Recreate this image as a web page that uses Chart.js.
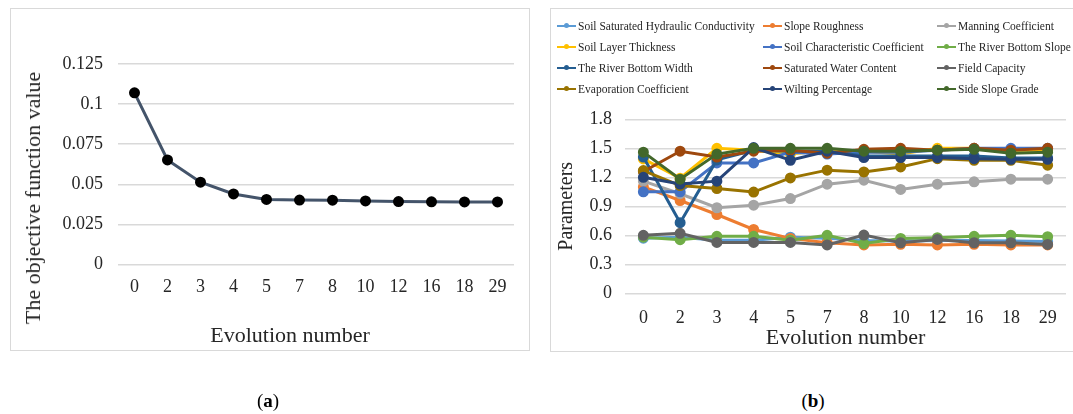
<!DOCTYPE html>
<html><head><meta charset="utf-8">
<script src="https://cdn.jsdelivr.net/npm/chart.js@4.4.0/dist/chart.umd.min.js"></script>
<style>
body{margin:0;width:1073px;height:414px;background:#fff;position:relative;overflow:hidden;font-family:"Liberation Serif","Times New Roman",serif;color:#262626;}
.box{position:absolute;border:1px solid #d9d9d9;box-sizing:border-box;}
#boxA{left:10px;top:8px;width:520px;height:343px;}
#boxB{left:550px;top:8px;width:530px;height:344px;}
canvas{position:absolute;}
#cA{left:11px;top:9px;}
#cB{left:551px;top:9px;}
.cap{position:absolute;top:390px;font-size:19px;color:#000;transform:translateX(-50%);}
.ttl{position:absolute;font-size:22px;line-height:26px;white-space:nowrap;color:#262626;}
#ytA{left:33px;top:198px;transform:translate(-50%,-50%) rotate(-90deg);}
#xtA{left:290px;top:335px;transform:translate(-50%,-50%);}
.lg{position:absolute;font-size:11.5px;line-height:14px;color:#262626;white-space:nowrap;}
.lg .mk{position:absolute;left:0;top:6px;width:19px;height:2px;}
.lg .dt{position:absolute;left:7px;top:4.5px;width:5px;height:5px;border-radius:50%;}
.lg .tx{position:absolute;left:21px;top:0;}
</style></head>
<body>
<div class="box" id="boxA"></div>
<div class="box" id="boxB"></div>
<canvas id="cA" width="518" height="341"></canvas>
<canvas id="cB" width="522" height="342"></canvas>
<div class="ttl" id="ytA">The objective function value</div>
<div class="ttl" id="xtA">Evolution number</div>
<div id="legend"></div>
<div class="cap" style="left:268px">(<b>a</b>)</div>
<div class="cap" style="left:813px">(<b>b</b>)</div>
<script>
const categories = ['0','2','3','4','5','7','8','10','12','16','18','29'];
const objectiveValues = [0.107,0.0652,0.0513,0.044,0.0406,0.0402,0.0401,0.0396,0.0392,0.0391,0.039,0.039];

const seriesNames = ['Soil Saturated Hydraulic Conductivity','Slope Roughness','Manning Coefficient',
 'Soil Layer Thickness','Soil Characteristic Coefficient','The River Bottom Slope',
 'The River Bottom Width','Saturated Water Content','Field Capacity',
 'Evaporation Coefficient','Wilting Percentage','Side Slope Grade'];
const seriesColors = ['#5B9BD5','#ED7D31','#A5A5A5','#FFC000','#4472C4','#70AD47',
 '#255E91','#9E480E','#636363','#997300','#264478','#43682B'];

const soilSatHydCond   = [0.57,0.58,0.55,0.55,0.58,0.57,0.545,0.54,0.545,0.545,0.54,0.535];
const slopeRoughness   = [1.10,0.96,0.815,0.66,0.568,0.524,0.50,0.507,0.50,0.507,0.50,0.50];
const manningCoef      = [1.16,1.03,0.885,0.912,0.98,1.129,1.17,1.074,1.129,1.153,1.18,1.18];
const soilLayerThick   = [1.39,1.19,1.50,1.48,1.44,1.48,1.47,1.44,1.50,1.50,1.48,1.48];
const soilCharCoef     = [1.05,1.05,1.349,1.349,1.46,1.44,1.46,1.46,1.48,1.50,1.50,1.50];
const riverBottomSlope = [0.58,0.555,0.59,0.59,0.55,0.60,0.515,0.568,0.575,0.59,0.60,0.585];
const riverBottomWidth = [1.41,0.73,1.38,1.48,1.47,1.47,1.42,1.42,1.42,1.42,1.40,1.40];
const satWaterContent  = [1.26,1.47,1.41,1.47,1.48,1.45,1.49,1.50,1.48,1.50,1.48,1.50];
const fieldCapacity    = [0.60,0.62,0.526,0.526,0.526,0.50,0.602,0.523,0.557,0.523,0.523,0.506];
const evapCoef         = [1.27,1.115,1.084,1.047,1.194,1.274,1.256,1.307,1.393,1.376,1.376,1.325];
const wiltingPct       = [1.20,1.13,1.16,1.507,1.376,1.47,1.404,1.404,1.404,1.393,1.386,1.386];
const sideSlopeGrade   = [1.46,1.18,1.44,1.50,1.50,1.50,1.47,1.47,1.48,1.49,1.45,1.46];

const seriesValues = [soilSatHydCond,slopeRoughness,manningCoef,soilLayerThick,soilCharCoef,riverBottomSlope,
 riverBottomWidth,satWaterContent,fieldCapacity,evapCoef,wiltingPct,sideSlopeGrade];

const yTicksA = [0,0.025,0.05,0.075,0.1,0.125];
const yTicksB = [0,0.3,0.6,0.9,1.2,1.5,1.8];

const FONT = "'Liberation Serif','Times New Roman',serif";
const TXT = '#262626';
const GRID = '#d9d9d9';

// Chart (a)
new Chart(document.getElementById('cA'), {
  type:'line',
  data:{labels:categories,datasets:[{data:objectiveValues,borderColor:'#44546A',borderWidth:3,
    pointBackgroundColor:'#000',pointBorderColor:'#000',pointRadius:4,tension:0}]},
  options:{
    responsive:false,animation:false,
    plugins:{legend:{display:false},tooltip:{enabled:false}},
    layout:{padding:{top:55,right:15,left:0,bottom:0}},
    scales:{
      x:{offset:true,grid:{display:false,drawTicks:false},border:{display:false},
         ticks:{padding:12,color:TXT,font:{family:FONT,size:18}},
         afterFit(s){s.height=85.5;}},
      y:{min:0,max:0.125,afterBuildTicks(s){s.ticks=yTicksA.map(v=>({value:v}));},
         grid:{color:GRID,lineWidth:1.5,drawTicks:false},border:{display:false},
         ticks:{padding:15,color:TXT,font:{family:FONT,size:18},callback:v=>String(+v.toFixed(3))},
         afterFit(s){s.width=107;}}
    }
  }
});

// Chart (b)
new Chart(document.getElementById('cB'), {
  type:'line',
  data:{labels:categories,datasets:seriesValues.map((vals,i)=>({
    label:seriesNames[i],data:vals,borderColor:seriesColors[i],backgroundColor:seriesColors[i],
    pointBackgroundColor:seriesColors[i],pointBorderColor:seriesColors[i],
    borderWidth:3,pointRadius:4,tension:0,order:seriesValues.length-i}))},
  options:{
    responsive:false,animation:false,
    plugins:{legend:{display:false},tooltip:{enabled:false}},
    layout:{padding:{top:110.3,right:1.5,left:0,bottom:0}},
    scales:{
      x:{offset:true,grid:{display:false,drawTicks:false},border:{display:false},
         ticks:{padding:14,color:TXT,font:{family:FONT,size:18}},
         title:{display:true,text:'Evolution number',color:TXT,font:{family:FONT,size:22},padding:{top:0,bottom:0}},
         afterFit(s){s.height=57.7;}},
      y:{min:0,max:1.8,afterBuildTicks(s){s.ticks=yTicksB.map(v=>({value:v}));},
         grid:{color:GRID,lineWidth:1.5,drawTicks:false},border:{display:false},
         ticks:{padding:13,color:TXT,font:{family:FONT,size:18},callback:v=>String(+v.toFixed(1))},
         title:{display:true,text:'Parameters',color:TXT,font:{family:FONT,size:20},padding:{top:4,bottom:0}},
         afterFit(s){s.width=74;}}
    }
  }
});

// Legend for (b), three columns
const lgCols = [557,763,937];
const lgRow0 = 25.7, lgRowStep = 21;
const lg = document.getElementById('legend');
seriesNames.forEach((name,i)=>{
  const d = document.createElement('div');
  d.className='lg';
  d.style.left = lgCols[i%3]+'px';
  d.style.top = (lgRow0 + Math.floor(i/3)*lgRowStep - 7)+'px';
  d.innerHTML = '<span class="mk" style="background:'+seriesColors[i]+'"></span><span class="dt" style="background:'+seriesColors[i]+'"></span><span class="tx"></span>';
  d.querySelector('.tx').textContent = name;
  lg.appendChild(d);
});
</script>
</body></html>
